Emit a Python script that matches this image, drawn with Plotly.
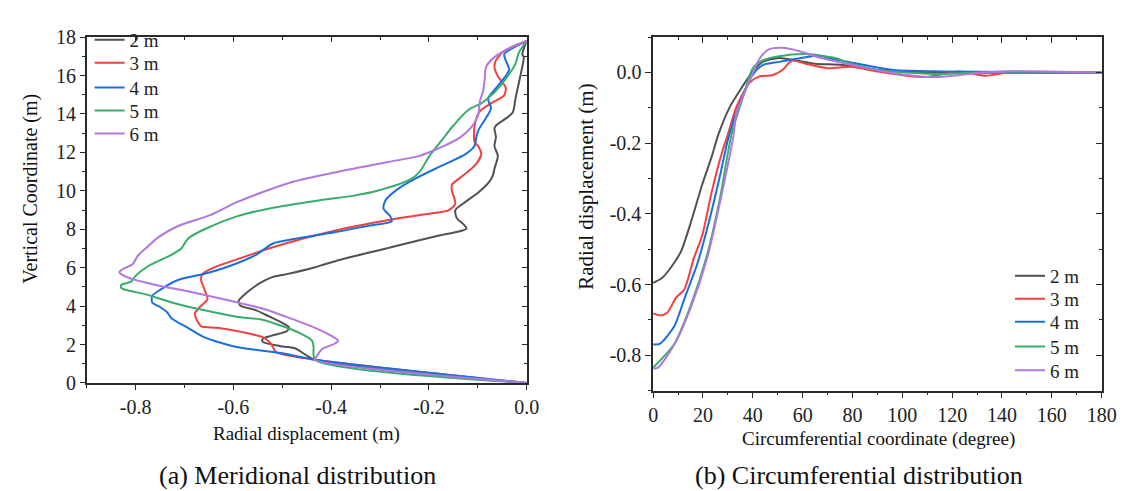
import plotly.graph_objects as go

W, H = 1127, 491
names = ["2 m", "3 m", "4 m", "5 m", "6 m"]
colors = ["#515151", "#F14040", "#1A6FDF", "#37AD6B", "#B177DE"]

# (a) Meridional distribution: radial displacement (m) vs vertical coordinate (m)
mer_x_2 = [0, -0.433, -0.473, -0.5, -0.54, -0.54, -0.523, -0.49, -0.486, -0.5, -0.526, -0.553, -0.586, -0.589, -0.573, -0.546, -0.519, -0.493, -0.433, -0.413, -0.379, -0.326, -0.259, -0.179, -0.133, -0.123, -0.129, -0.143, -0.146, -0.126, -0.099, -0.076, -0.069, -0.066, -0.059, -0.066, -0.063, -0.066, -0.063, -0.029, -0.023, -0.016, -0.009, -0.006, -0.009, 0]
mer_y_2 = [0, 1.21, 1.79, 1.9, 2.14, 2.29, 2.45, 2.7, 2.9, 3.13, 3.45, 3.78, 4.03, 4.28, 4.69, 5.19, 5.52, 5.65, 6.02, 6.18, 6.43, 6.76, 7.18, 7.67, 7.92, 8.04, 8.25, 8.58, 9.0, 9.41, 9.91, 10.49, 10.82, 11.15, 11.82, 12.32, 12.81, 13.23, 13.39, 14.06, 14.8, 15.63, 16.46, 16.96, 17.12, 17.8]

mer_x_3 = [0, -0.433, -0.513, -0.523, -0.539, -0.593, -0.633, -0.666, -0.673, -0.679, -0.669, -0.653, -0.659, -0.666, -0.663, -0.639, -0.593, -0.526, -0.393, -0.259, -0.193, -0.159, -0.146, -0.153, -0.153, -0.129, -0.106, -0.093, -0.099, -0.107, -0.106, -0.096, -0.073, -0.046, -0.043, -0.059, -0.066, -0.063, -0.046, 0]
mer_y_3 = [0, 1.21, 1.62, 2.04, 2.37, 2.7, 2.87, 2.95, 3.2, 3.61, 3.94, 4.36, 4.86, 5.36, 5.68, 6.02, 6.43, 7.01, 7.92, 8.58, 8.83, 9.0, 9.33, 10.0, 10.32, 10.82, 11.32, 11.9, 12.32, 12.57, 13.48, 14.14, 14.55, 14.97, 15.38, 15.96, 16.46, 16.79, 17.29, 17.8]

mer_x_4 = [0, -0.433, -0.499, -0.593, -0.659, -0.693, -0.726, -0.736, -0.749, -0.766, -0.766, -0.749, -0.713, -0.659, -0.606, -0.553, -0.519, -0.473, -0.393, -0.326, -0.276, -0.279, -0.293, -0.289, -0.266, -0.226, -0.173, -0.126, -0.107, -0.103, -0.099, -0.079, -0.073, -0.079, -0.059, -0.036, -0.043, -0.046, -0.033, 0]
mer_y_4 = [0, 1.21, 1.54, 1.87, 2.37, 2.87, 3.36, 3.69, 3.94, 4.19, 4.53, 4.86, 5.36, 5.68, 6.1, 6.68, 7.26, 7.51, 7.84, 8.17, 8.42, 8.67, 9.08, 9.5, 10.05, 10.66, 11.32, 11.9, 12.32, 12.81, 13.15, 13.97, 14.3, 14.8, 15.46, 16.3, 16.79, 17.12, 17.37, 17.8]

mer_x_5 = [0, -0.433, -0.436, -0.439, -0.466, -0.499, -0.539, -0.593, -0.659, -0.726, -0.779, -0.829, -0.829, -0.809, -0.799, -0.773, -0.726, -0.706, -0.693, -0.659, -0.593, -0.526, -0.426, -0.353, -0.306, -0.239, -0.219, -0.199, -0.173, -0.153, -0.119, -0.093, -0.066, -0.039, -0.023, -0.016, 0]
mer_y_5 = [0, 1.21, 1.87, 2.2, 2.62, 2.95, 3.28, 3.45, 3.78, 4.19, 4.61, 4.94, 5.1, 5.27, 5.6, 6.1, 6.68, 7.01, 7.51, 8.0, 8.67, 9.08, 9.5, 9.75, 10.0, 10.58, 10.99, 11.82, 12.65, 13.31, 14.22, 14.55, 15.13, 15.96, 16.62, 17.2, 17.8]

mer_x_6 = [0, -0.433, -0.429, -0.419, -0.393, -0.386, -0.399, -0.433, -0.493, -0.539, -0.606, -0.693, -0.759, -0.819, -0.833, -0.826, -0.806, -0.796, -0.779, -0.753, -0.713, -0.646, -0.593, -0.486, -0.386, -0.286, -0.219, -0.186, -0.139, -0.113, -0.099, -0.096, -0.089, -0.086, -0.083, -0.066, -0.039, 0]
mer_y_6 = [0, 1.21, 1.4, 1.75, 2.04, 2.2, 2.45, 2.87, 3.45, 3.86, 4.28, 4.77, 5.1, 5.52, 5.77, 5.93, 6.18, 6.6, 7.01, 7.59, 8.17, 8.75, 9.41, 10.41, 10.99, 11.49, 11.82, 12.15, 12.73, 13.31, 13.97, 14.64, 15.22, 15.8, 16.46, 16.96, 17.37, 17.8]

# (b) Circumferential distribution: coordinate (degree) vs radial displacement (m)
cir_x_2 = [0, 3.3, 7.2, 11.2, 15.1, 19.7, 23.6, 26.2, 30.9, 34.8, 40, 44, 50.6, 57.2, 65, 76, 90, 110, 180]
cir_y_2 = [-0.595, -0.583, -0.551, -0.506, -0.425, -0.317, -0.236, -0.175, -0.096, -0.051, 0.003, 0.030, 0.041, 0.034, 0.025, 0.021, 0.007, 0.0, 0.0]

cir_x_3 = [0, 2, 4, 5.9, 9.2, 12.5, 16.4, 19.7, 23.6, 27.6, 30, 33.5, 38.7, 42.7, 47.9, 51.9, 55.8, 61.1, 70, 79.5, 90, 108.4, 122.8, 133.4, 142.6, 180]
cir_y_3 = [-0.682, -0.686, -0.686, -0.678, -0.637, -0.614, -0.524, -0.461, -0.335, -0.227, -0.175, -0.096, -0.029, -0.011, -0.008, 0.007, 0.034, 0.025, 0.012, 0.016, 0.003, -0.013, 0.003, -0.009, 0.0, 0.0]

cir_x_4 = [0, 2.6, 8.5, 12.5, 17.7, 22.3, 26.9, 30.2, 34.8, 40, 44, 50.6, 61.1, 66, 71.6, 84.7, 96.6, 116.3, 180]
cir_y_4 = [-0.769, -0.768, -0.718, -0.641, -0.542, -0.425, -0.290, -0.185, -0.087, -0.006, 0.021, 0.030, 0.043, 0.048, 0.039, 0.021, 0.007, 0.003, 0.0]

cir_x_5 = [0, 8.5, 15.1, 21.7, 26.9, 31.5, 36.1, 40, 44, 50.6, 61.1, 69, 74.2, 77, 90, 116.3, 142.6, 180]
cir_y_5 = [-0.835, -0.768, -0.659, -0.515, -0.353, -0.173, -0.069, 0.012, 0.034, 0.046, 0.052, 0.046, 0.039, 0.030, 0.007, -0.004, 0.003, 0.0]

cir_x_6 = [0, 2, 8.5, 15.1, 21.7, 26.9, 32.2, 33.5, 38.7, 42.7, 46.6, 51.9, 58.5, 66.3, 74.2, 83.4, 96.6, 113.6, 129.4, 142.6, 180]
cir_y_6 = [-0.838, -0.835, -0.77, -0.665, -0.525, -0.365, -0.18, -0.114, -0.024, 0.039, 0.066, 0.070, 0.061, 0.043, 0.030, 0.016, -0.002, -0.013, -0.002, 0.003, 0.0]

mer_ticks_x = [-0.8, -0.6, -0.4, -0.2, 0.0]
mer_ticks_x_text = ["-0.8", "-0.6", "-0.4", "-0.2", "0.0"]
mer_minor_x = [-0.9, -0.7, -0.5, -0.3, -0.1]
mer_ticks_y = list(range(0, 19, 2))
mer_minor_y = list(range(1, 18, 2))
cir_ticks_x = list(range(0, 181, 20))
cir_minor_x = list(range(10, 180, 20))
cir_ticks_y = [-0.8, -0.6, -0.4, -0.2, 0.0]
cir_ticks_y_text = ["-0.8", "-0.6", "-0.4", "-0.2", "0.0"]
cir_minor_y = [-0.9, -0.7, -0.5, -0.3, -0.1, 0.1]

mer_x = [mer_x_2, mer_x_3, mer_x_4, mer_x_5, mer_x_6]
mer_y = [mer_y_2, mer_y_3, mer_y_4, mer_y_5, mer_y_6]
cir_x = [cir_x_2, cir_x_3, cir_x_4, cir_x_5, cir_x_6]
cir_y = [cir_y_2, cir_y_3, cir_y_4, cir_y_5, cir_y_6]

FONT = "'Liberation Serif', 'Times New Roman', Times, serif"
AX = "#2a2a2a"

def px_x(p):
    return p / W

def px_y(p):
    return 1 - p / H

# legend anchor rows (pixels from top) for the two panels
leg_a_rows = [22, 46, 72, 96, 120]
leg_b_rows = [269, 293, 317, 343, 368]

fig = go.Figure()
for i in range(5):
    fig.add_trace(go.Scatter(x=mer_x[i], y=mer_y[i], mode="lines", name=names[i],
                             line=dict(color=colors[i], width=2, shape="spline", smoothing=0.7),
                             xaxis="x", yaxis="y", legend="legend" if i == 0 else f"legend{i + 1}"))
for i in range(5):
    fig.add_trace(go.Scatter(x=cir_x[i], y=cir_y[i], mode="lines", name=names[i],
                             line=dict(color=colors[i], width=2, shape="spline", smoothing=0.7),
                             xaxis="x2", yaxis="y2", legend=f"legend{i + 6}"))
# helper traces so the mirror axes (inward ticks on top/right) are drawn
for xa, ya in [("x3", "y"), ("x", "y3"), ("x4", "y2"), ("x2", "y4")]:
    fig.add_trace(go.Scatter(x=[None], y=[None], xaxis=xa, yaxis=ya, showlegend=False, hoverinfo="skip"))

tickfont = dict(family=FONT, size=20, color="#222222")

def axis(rng, domain, tv, tt, mv, ticks, labels, anchor, side=None, overlaying=None, ticklen=5):
    d = dict(range=rng, tickvals=tv, ticktext=tt, ticks=ticks, ticklen=ticklen, tickwidth=1.3,
             tickcolor=AX, showline=True, linecolor=AX, linewidth=1.5, showgrid=False,
             zeroline=False, showticklabels=labels, tickfont=tickfont, anchor=anchor,
             minor=dict(tickvals=mv, ticks=ticks, ticklen=3, tickwidth=1.2, tickcolor=AX, showgrid=False))
    if domain is not None:
        d["domain"] = domain
    if side:
        d["side"] = side
    if overlaying:
        d["overlaying"] = overlaying
    return d

xd1 = [px_x(75), px_x(523)]
yd1 = [px_y(381), px_y(19)]
xd2 = [px_x(651.7), px_x(1108.3)]
yd2 = [px_y(389), px_y(19)]

layout = dict(
    width=W, height=H, margin=dict(l=0, r=0, t=0, b=0),
    paper_bgcolor="white", plot_bgcolor="white",
    font=dict(family=FONT, color="#222222"),
    xaxis=axis([-0.9, 0.0], xd1, mer_ticks_x, mer_ticks_x_text, mer_minor_x, "outside", True, "y"),
    yaxis=axis([0, 18], yd1, mer_ticks_y, [str(v) for v in mer_ticks_y], mer_minor_y, "outside", True, "x"),
    xaxis3=axis([-0.9, 0.0], None, mer_ticks_x, mer_ticks_x_text, mer_minor_x, "inside", False, "y", side="top", overlaying="x"),
    yaxis3=axis([0, 18], None, mer_ticks_y, [str(v) for v in mer_ticks_y], mer_minor_y, "inside", False, "x", side="right", overlaying="y"),
    xaxis2=axis([0, 180], xd2, cir_ticks_x, [str(v) for v in cir_ticks_x], cir_minor_x, "outside", True, "y2", ticklen=6),
    yaxis2=axis([-0.9, 0.1], yd2, cir_ticks_y, cir_ticks_y_text, cir_minor_y, "outside", True, "x2", ticklen=6),
    xaxis4=axis([0, 180], None, cir_ticks_x, [str(v) for v in cir_ticks_x], cir_minor_x, "inside", False, "y2", side="top", overlaying="x2", ticklen=6),
    yaxis4=axis([-0.9, 0.1], None, cir_ticks_y, cir_ticks_y_text, cir_minor_y, "inside", False, "x2", side="right", overlaying="y2", ticklen=6),
    showlegend=True,
)
for i in range(5):
    key = "legend" if i == 0 else f"legend{i + 1}"
    layout[key] = dict(x=px_x(78), y=px_y(leg_a_rows[i]), xanchor="left", yanchor="middle",
                       bgcolor="rgba(0,0,0,0)", font=dict(family=FONT, size=19, color="#222222"))
    layout[f"legend{i + 6}"] = dict(x=px_x(1015), y=px_y(leg_b_rows[i]), xanchor="left", yanchor="middle",
                                    bgcolor="rgba(0,0,0,0)", font=dict(family=FONT, size=19, color="#222222"))
fig.update_layout(**layout)

ann = [
    dict(text="Radial displacement (m)", x=px_x(299), y=px_y(434), size=19, angle=0),
    dict(text="Circumferential coordinate (degree)", x=px_x(881), y=px_y(440), size=19, angle=0),
    dict(text="Vertical Coordinate (m)", x=px_x(17), y=px_y(178), size=20, angle=-90),
    dict(text="Radial displacement (m)", x=px_x(583), y=px_y(176), size=21, angle=-90),
    dict(text="(a) Meridional distribution", x=px_x(290), y=px_y(478), size=26, angle=0),
    dict(text="(b) Circumferential distribution", x=px_x(861), y=px_y(478), size=26, angle=0),
]
for a in ann:
    fig.add_annotation(text=a["text"], x=a["x"], y=a["y"], xref="paper", yref="paper",
                       xanchor="center", yanchor="middle", showarrow=False, textangle=a["angle"],
                       font=dict(family=FONT, size=a["size"], color="#111111"))

fig.write_html("out.html")
